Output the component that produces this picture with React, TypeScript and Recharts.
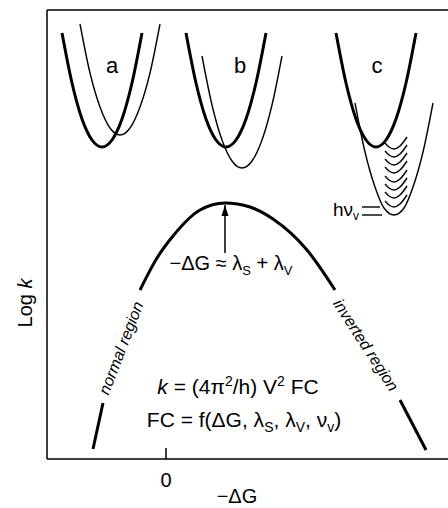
import { ComposedChart, Line, XAxis, YAxis, ReferenceLine, ReferenceDot } from 'recharts'

type Pt = { x: number; y: number }

// x: -ΔG (0 at the tick), y: log k — schematic units
const rateLeftTail: Pt[] = [
  { x: -73, y: 10 },
  { x: -68, y: 33 },
  { x: -63, y: 56 },
]
const rateTop: Pt[] = [
  { x: -26, y: 169 },
  { x: -9, y: 201 },
  { x: 7, y: 223 },
  { x: 34, y: 249 },
  { x: 59, y: 256 },
  { x: 84, y: 252 },
  { x: 107, y: 240 },
  { x: 141, y: 209 },
  { x: 169, y: 169 },
]
const rateRightTail: Pt[] = [
  { x: 234, y: 59 },
  { x: 247, y: 34 },
  { x: 260, y: 9 },
]

// potential wells in the three insets (reactant = thick, product = thin)
const aReactant: Pt[] = [
  { x: -104, y: 426 }, { x: -94, y: 376 }, { x: -84, y: 340 }, { x: -74, y: 319 }, { x: -64, y: 312 },
  { x: -54, y: 319 }, { x: -44, y: 340 }, { x: -34, y: 376 }, { x: -24, y: 426 },
]
const aProduct: Pt[] = [
  { x: -86, y: 435 }, { x: -76, y: 386 }, { x: -66, y: 352 }, { x: -56, y: 331 }, { x: -46, y: 324 },
  { x: -36, y: 331 }, { x: -26, y: 352 }, { x: -16, y: 386 }, { x: -6, y: 435 },
]
const bReactant: Pt[] = [
  { x: 20, y: 426 }, { x: 30, y: 376 }, { x: 40, y: 340 }, { x: 50, y: 319 }, { x: 60, y: 312 },
  { x: 70, y: 319 }, { x: 80, y: 340 }, { x: 90, y: 376 }, { x: 100, y: 426 },
]
const bProduct: Pt[] = [
  { x: 36, y: 403 }, { x: 46, y: 354 }, { x: 56, y: 319 }, { x: 66, y: 298 }, { x: 76, y: 291 },
  { x: 86, y: 298 }, { x: 96, y: 319 }, { x: 106, y: 354 }, { x: 116, y: 403 },
]
const cReactant: Pt[] = [
  { x: 170, y: 426 }, { x: 180, y: 376 }, { x: 190, y: 340 }, { x: 200, y: 319 }, { x: 210, y: 312 },
  { x: 220, y: 319 }, { x: 230, y: 340 }, { x: 240, y: 376 }, { x: 250, y: 426 },
]
const cProduct: Pt[] = [
  { x: 189, y: 356 }, { x: 199, y: 307 }, { x: 209, y: 272 }, { x: 218, y: 251 }, { x: 228, y: 244 },
  { x: 238, y: 251 }, { x: 247, y: 272 }, { x: 257, y: 307 }, { x: 267, y: 356 },
]

// vibrational levels of the product well in c
const levelCenter = 228
const levelHeights = [252, 261, 269, 277, 286, 294, 302, 310]
const levelShape: Pt[] = [
  { x: -9, y: 6 },
  { x: -5, y: 2 },
  { x: 0, y: 0 },
  { x: 6, y: 3 },
  { x: 13, y: 12 },
]

const arrowPts: Pt[] = [
  { x: 59, y: 206 },
  { x: 59, y: 254 },
]
const hvUpper: Pt[] = [
  { x: 196, y: 252 },
  { x: 214, y: 252 },
]
const hvLower: Pt[] = [
  { x: 196, y: 244 },
  { x: 216, y: 244 },
]

const xTicks = [0]

const FONT = '"Liberation Sans", Arial, Helvetica, sans-serif'

const levels = levelHeights.map((h) =>
  levelShape.map((p) => ({ x: levelCenter + p.x, y: h + p.y }))
)

const ZeroTick = (props: any) => {
  const { x, y, payload } = props
  return (
    <g>
      <line x1={x} x2={x} y1={y - 11} y2={y} stroke="#000" strokeWidth={1.5} />
      <text x={x} y={y + 28} textAnchor="middle" fontSize={20} fontFamily={FONT} fill="#000">
        {payload.value}
      </text>
    </g>
  )
}

const note = (key: string, x: number, y: number, render: (cx: number, cy: number) => any) => (
  <ReferenceDot
    key={key}
    x={x}
    y={y}
    r={0}
    fill="none"
    stroke="none"
    ifOverflow="visible"
    label={(p: any) => render(p.viewBox.x, p.viewBox.y)}
  />
)

const curve = (key: string, data: Pt[], width: number, type: any = 'monotone') => (
  <Line
    key={key}
    data={data}
    dataKey="y"
    type={type}
    stroke="#000"
    strokeWidth={width}
    dot={false}
    activeDot={false}
    isAnimationActive={false}
  />
)

export default function App() {
  return (
    <div style={{ position: 'absolute', left: 0, top: 0, background: '#fff' }}>
      <ComposedChart width={448} height={508} margin={{ top: 10, right: 0, bottom: 0, left: 0 }}>
        <XAxis
          type="number"
          dataKey="x"
          domain={[-119, 282]}
          allowDataOverflow
          ticks={xTicks}
          tick={<ZeroTick />}
          tickSize={0}
          tickMargin={0}
          tickLine={false}
          height={49}
          axisLine={{ stroke: '#000', strokeWidth: 1.5 }}
        />
        <YAxis
          type="number"
          domain={[0, 449]}
          allowDataOverflow
          width={47}
          tick={false}
          tickLine={false}
          axisLine={{ stroke: '#000', strokeWidth: 1.5 }}
        />
        <ReferenceLine y={449} stroke="#000" strokeWidth={1.5} />

        {curve('rl', rateLeftTail, 3, 'linear')}
        {curve('rt', rateTop, 3)}
        {curve('rr', rateRightTail, 3, 'linear')}

        {curve('ar', aReactant, 3)}
        {curve('ap', aProduct, 1.4)}
        {curve('br', bReactant, 3)}
        {curve('bp', bProduct, 1.4)}
        {curve('cr', cReactant, 3)}
        {curve('cp', cProduct, 1.4)}
        {levels.map((lv, i) => curve('lv' + i, lv, 1.4))}

        {curve('hu', hvUpper, 1.4, 'linear')}
        {curve('hl', hvLower, 1.4, 'linear')}

        <Line
          data={arrowPts}
          dataKey="y"
          type="linear"
          stroke="#000"
          strokeWidth={1.5}
          activeDot={false}
          isAnimationActive={false}
          dot={(p: any) =>
            p.index === 1 ? (
              <polygon
                key="head"
                points={`${p.cx},${p.cy} ${p.cx - 3.5},${p.cy + 11} ${p.cx + 3.5},${p.cy + 11}`}
                fill="#000"
              />
            ) : (
              <g key="tail" />
            )
          }
        />

        {note('a', -54, 394, (x, y) => (
          <text x={x} y={y} textAnchor="middle" dominantBaseline="central" fontSize={22} fontFamily={FONT}>a</text>
        ))}
        {note('b', 74, 394, (x, y) => (
          <text x={x} y={y} textAnchor="middle" dominantBaseline="central" fontSize={22} fontFamily={FONT}>b</text>
        ))}
        {note('c', 211, 394, (x, y) => (
          <text x={x} y={y} textAnchor="middle" dominantBaseline="central" fontSize={22} fontFamily={FONT}>c</text>
        ))}

        {note('hv', 193, 243, (x, y) => (
          <text x={x} y={y} textAnchor="end" fontSize={19} fontFamily={FONT}>
            <tspan>hν</tspan>
            <tspan dy={4} fontSize={12}>v</tspan>
          </text>
        ))}

        {note('peak', 65, 189, (x, y) => (
          <text x={x} y={y} textAnchor="middle" fontSize={20} fontFamily={FONT}>
            <tspan>{'−ΔG ≈ λ'}</tspan>
            <tspan dy={5} fontSize={13}>S</tspan>
            <tspan dy={-5}>{' + λ'}</tspan>
            <tspan dy={5} fontSize={13}>V</tspan>
          </text>
        ))}

        {note('normal', -45, 111, (x, y) => (
          <text
            x={x}
            y={y}
            textAnchor="middle"
            dominantBaseline="central"
            fontSize={16}
            fontStyle="italic"
            fontFamily={FONT}
            transform={`rotate(-69 ${x} ${y})`}
          >
            normal region
          </text>
        ))}
        {note('inverted', 200, 114, (x, y) => (
          <text
            x={x}
            y={y}
            textAnchor="middle"
            dominantBaseline="central"
            fontSize={16}
            fontStyle="italic"
            fontFamily={FONT}
            transform={`rotate(57 ${x} ${y})`}
          >
            inverted region
          </text>
        ))}

        {note('eq1', 72, 65, (x, y) => (
          <text x={x} y={y} textAnchor="middle" fontSize={21} fontFamily={FONT}>
            <tspan fontStyle="italic">k</tspan>
            <tspan>{' = (4π'}</tspan>
            <tspan dy={-8} fontSize={14}>2</tspan>
            <tspan dy={8}>{'/h) V'}</tspan>
            <tspan dy={-8} fontSize={14}>2</tspan>
            <tspan dy={8}>{' FC'}</tspan>
          </text>
        ))}
        {note('eq2', 78, 32, (x, y) => (
          <text x={x} y={y} textAnchor="middle" fontSize={21} fontFamily={FONT}>
            <tspan>{'FC = f(ΔG, λ'}</tspan>
            <tspan dy={5} fontSize={14}>S</tspan>
            <tspan dy={-5}>{', λ'}</tspan>
            <tspan dy={5} fontSize={14}>V</tspan>
            <tspan dy={-5}>{', ν'}</tspan>
            <tspan dy={5} fontSize={14}>v</tspan>
            <tspan dy={-5}>)</tspan>
          </text>
        ))}

        {note('ylab', -141, 156, (x, y) => (
          <text
            x={x}
            y={y}
            textAnchor="middle"
            dominantBaseline="central"
            fontSize={20}
            fontFamily={FONT}
            transform={`rotate(-90 ${x} ${y})`}
          >
            <tspan>{'Log '}</tspan>
            <tspan fontStyle="italic">k</tspan>
          </text>
        ))}
        {note('xlab', 71, -37, (x, y) => (
          <text x={x} y={y} textAnchor="middle" dominantBaseline="central" fontSize={20} fontFamily={FONT}>
            −ΔG
          </text>
        ))}
      </ComposedChart>
    </div>
  )
}
